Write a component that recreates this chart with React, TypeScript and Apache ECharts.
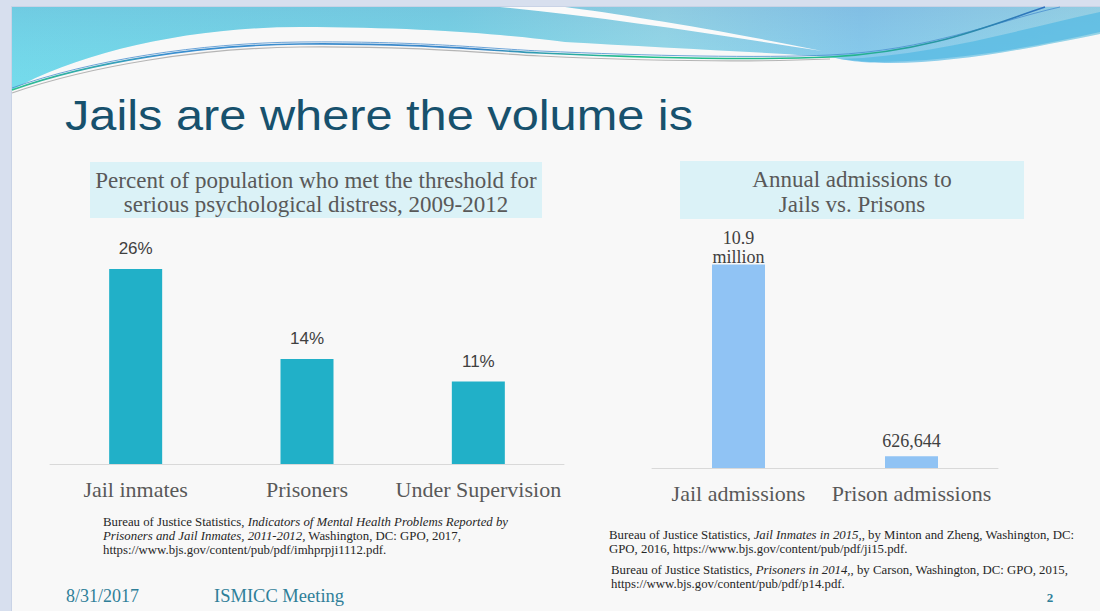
import React, { useEffect, useRef } from "react";
import * as echarts from "echarts";

// ---- Data ----
const pctCategories = ["Jail inmates", "Prisoners", "Under Supervision"];
const pctValues = [26, 14, 11];
const admCategories = ["Jail admissions", "Prison admissions"];
const admValues = [10900000, 626644];

const slideTitle = "Jails are where the volume is";
const leftChartTitle = ["Percent of population who met the threshold for", "serious psychological distress, 2009-2012"];
const rightChartTitle = ["Annual admissions to", "Jails vs. Prisons"];

// ---- decorative paths (slide header wave) ----
const cyanPath =
  "M12 7 H1100 V34 C1040 46 960 63 890 63 C860 63 845 60 830 57 C760 52 650 47 565 42 C520 36 430 27 300 27 C190 27 80 52 12 90 Z";
const wedgePath = "M500 7 L565 7 C620 14 720 30 822 51 C720 35 610 18 500 7 Z";
const blueBandPath = "M840 59 C930 56 1010 32 1100 12 V32 C1030 48 950 62 870 62 Z";
const line1Path = "M12 90 C90 62 200 45 300 44 C420 43 480 50 540 53 C650 58 760 60 830 57 C930 52 990 25 1045 7";
const line2Path = "M12 88 C90 60 200 43 300 42 C420 41 480 48 540 51 C650 56 760 58 830 55 C930 50 990 23 1060 7";
const line3Path = "M12 93 C90 66 200 48 300 47 C420 46 480 53 540 56 C650 61 760 62 830 59";

let registered = false;
function registerShapes() {
  if (registered) return;
  registered = true;
  echarts.graphic.registerShape("cyanWave", echarts.graphic.extendPath(cyanPath, {}));
  echarts.graphic.registerShape("whiteWedge", echarts.graphic.extendPath(wedgePath, {}));
  echarts.graphic.registerShape("blueBand", echarts.graphic.extendPath(blueBandPath, {}));
  echarts.graphic.registerShape("waveLine1", echarts.graphic.extendPath(line1Path, {}));
  echarts.graphic.registerShape("waveLine2", echarts.graphic.extendPath(line2Path, {}));
  echarts.graphic.registerShape("waveLine3", echarts.graphic.extendPath(line3Path, {}));
}

const SERIF = "'Liberation Serif', 'DejaVu Serif', serif";
const SANS = "'Liberation Sans', Arial, sans-serif";

function footLine(x: number, y: number, text: string, size = 12.8) {
  return {
    type: "text",
    x,
    y,
    style: {
      text,
      fontFamily: SERIF,
      fontSize: size,
      fill: "#262626",
      align: "left",
      verticalAlign: "middle",
      rich: {
        n: { fontFamily: SERIF, fontSize: size, fill: "#262626" },
        i: { fontFamily: SERIF, fontSize: size, fontStyle: "italic", fill: "#262626" },
      },
    },
  };
}

export default function App() {
  const ref = useRef<HTMLDivElement>(null);

  useEffect(() => {
    if (!ref.current) return;
    registerShapes();
    const chart = echarts.init(ref.current, null, { renderer: "svg" });

    const graphics: any[] = [
      // outer frame
      { type: "rect", shape: { x: 0, y: 0, width: 1100, height: 611 }, style: { fill: "#d7dfee" } },
      { type: "rect", shape: { x: 11, y: 6, width: 1089, height: 605 }, style: { fill: "#c9d3e6" } },
      { type: "rect", shape: { x: 12, y: 7, width: 1088, height: 604 }, style: { fill: "#f8f8f8" } },
      // header wave
      {
        type: "cyanWave",
        style: {
          fill: {
            type: "linear", x: 0, y: 0, x2: 1, y2: 0,
            colorStops: [
              { offset: 0, color: "#74d9ea" },
              { offset: 0.4, color: "#7ad4e6" },
              { offset: 0.6, color: "#9ad9e8" },
              { offset: 0.78, color: "#8ac9ec" },
              { offset: 1, color: "#9fdbea" },
            ],
          },
        },
      },
      {
        type: "cyanWave",
        style: {
          fill: {
            type: "linear", x: 0, y: 0, x2: 0, y2: 1,
            colorStops: [
              { offset: 0, color: "rgba(90,140,190,0.18)" },
              { offset: 1, color: "rgba(120,240,250,0.10)" },
            ],
          },
        },
      },
      { type: "whiteWedge", style: { fill: "#fafafa" } },
      { type: "blueBand", style: { fill: "#55b9e3", opacity: 0.75 } },
      { type: "waveLine3", style: { fill: null, stroke: "#b5b5b5", lineWidth: 1.2 } },
      { type: "waveLine2", style: { fill: null, stroke: "#4a8fd0", lineWidth: 1, opacity: 0.8 } },
      {
        type: "waveLine1",
        style: {
          fill: null,
          lineWidth: 1.6,
          stroke: {
            type: "linear", x: 0, y: 0, x2: 1, y2: 0,
            colorStops: [
              { offset: 0, color: "#2cc08e" },
              { offset: 0.15, color: "#3a8fd0" },
              { offset: 0.45, color: "#3a86c8" },
              { offset: 0.6, color: "#1fbf8a" },
              { offset: 0.8, color: "#22b98a" },
              { offset: 1, color: "#2f70c0" },
            ],
          },
        },
      },
      // slide title
      {
        type: "text",
        x: 65,
        y: 115.5,
        scaleX: 1.16,
        style: {
          text: slideTitle,
          fontFamily: SANS,
          fontSize: 42,
          fill: "#17516d",
          align: "left",
          verticalAlign: "middle",
        },
      },
      // chart title boxes
      { type: "rect", shape: { x: 90, y: 162, width: 452, height: 56 }, style: { fill: "#dbf2f7" } },
      {
        type: "text", x: 316, y: 180.5,
        style: { text: leftChartTitle[0], fontFamily: SERIF, fontSize: 23, fill: "#595959", align: "center", verticalAlign: "middle" },
      },
      {
        type: "text", x: 316, y: 204.5,
        style: { text: leftChartTitle[1], fontFamily: SERIF, fontSize: 23, fill: "#595959", align: "center", verticalAlign: "middle" },
      },
      { type: "rect", shape: { x: 680, y: 161, width: 344, height: 58 }, style: { fill: "#dbf2f7" } },
      {
        type: "text", x: 852, y: 179,
        style: { text: rightChartTitle[0], fontFamily: SERIF, fontSize: 23, fill: "#595959", align: "center", verticalAlign: "middle" },
      },
      {
        type: "text", x: 852, y: 204,
        style: { text: rightChartTitle[1], fontFamily: SERIF, fontSize: 23, fill: "#595959", align: "center", verticalAlign: "middle" },
      },
      // footnotes
      footLine(103, 522, "{n|Bureau of Justice Statistics, }{i|Indicators of Mental Health Problems Reported by}"),
      footLine(103, 536, "{i|Prisoners and Jail Inmates, 2011-2012,}{n| Washington, DC: GPO, 2017,}"),
      footLine(103, 550, "{n|https://www.bjs.gov/content/pub/pdf/imhprpji1112.pdf.}"),
      footLine(609, 535, "{n|Bureau of Justice Statistics, }{i|Jail Inmates in 2015,}{n|, by Minton and Zheng, Washington, DC:}"),
      footLine(609, 549, "{n|GPO, 2016, https://www.bjs.gov/content/pub/pdf/ji15.pdf.}"),
      footLine(611, 570, "{n|Bureau of Justice Statistics, }{i|Prisoners in 2014,}{n|, by Carson, Washington, DC: GPO, 2015,}"),
      footLine(611, 584, "{n|https://www.bjs.gov/content/pub/pdf/p14.pdf.}"),
      // slide footer
      {
        type: "text", x: 66, y: 596,
        style: { text: "8/31/2017", fontFamily: SERIF, fontSize: 18, fill: "#2f7f98", align: "left", verticalAlign: "middle" },
      },
      {
        type: "text", x: 214, y: 596,
        style: { text: "ISMICC Meeting", fontFamily: SERIF, fontSize: 18.5, fill: "#2f7f98", align: "left", verticalAlign: "middle" },
      },
      {
        type: "text", x: 1050, y: 597,
        style: { text: "2", fontFamily: SERIF, fontSize: 13, fontWeight: "bold", fill: "#2f7f98", align: "center", verticalAlign: "middle" },
      },
    ];

    const axisLabelStyle = {
      fontFamily: SERIF,
      fontSize: 22,
      color: "#595959",
    };

    chart.setOption({
      animation: false,
      graphic: graphics,
      grid: [
        { left: 50, top: 239, width: 514, height: 225 },
        { left: 652, top: 244, width: 346, height: 224 },
      ],
      xAxis: [
        {
          type: "category",
          gridIndex: 0,
          data: pctCategories,
          axisLine: { lineStyle: { color: "#d9d9d9", width: 1 } },
          axisTick: { show: false },
          axisLabel: { ...axisLabelStyle, interval: 0, margin: 14 },
        },
        {
          type: "category",
          gridIndex: 1,
          data: admCategories,
          axisLine: { lineStyle: { color: "#d9d9d9", width: 1 } },
          axisTick: { show: false },
          axisLabel: { ...axisLabelStyle, interval: 0, margin: 14 },
        },
      ],
      yAxis: [
        { type: "value", gridIndex: 0, min: 0, max: 30, show: false, splitLine: { show: false } },
        { type: "value", gridIndex: 1, min: 0, max: 12000000, show: false, splitLine: { show: false } },
      ],
      series: [
        {
          type: "bar",
          xAxisIndex: 0,
          yAxisIndex: 0,
          data: pctValues,
          barWidth: 53,
          itemStyle: { color: "#21b0c8" },
          label: {
            show: true,
            position: "top",
            distance: 12,
            formatter: (p: any) => p.value + "%",
            fontFamily: SANS,
            fontSize: 17,
            color: "#404040",
          },
        },
        {
          type: "bar",
          xAxisIndex: 1,
          yAxisIndex: 1,
          data: admValues.map((v) =>
            v >= 1000000 ? { value: v, label: { distance: -2 } } : { value: v }
          ),
          barWidth: 53,
          itemStyle: { color: "#90c3f4" },
          label: {
            show: true,
            position: "top",
            formatter: (p: any) =>
              p.value >= 1000000
                ? (p.value / 1000000).toFixed(1) + "\nmillion"
                : Number(p.value).toLocaleString("en-US"),
            fontFamily: SERIF,
            fontSize: 18,
            lineHeight: 19,
            color: "#404040",
            distance: 6,
          },
        },
      ],
    });

    return () => {
      chart.dispose();
    };
  }, []);

  return (
    <div
      ref={ref}
      style={{ position: "absolute", left: 0, top: 0, width: 1100, height: 611 }}
    />
  );
}
